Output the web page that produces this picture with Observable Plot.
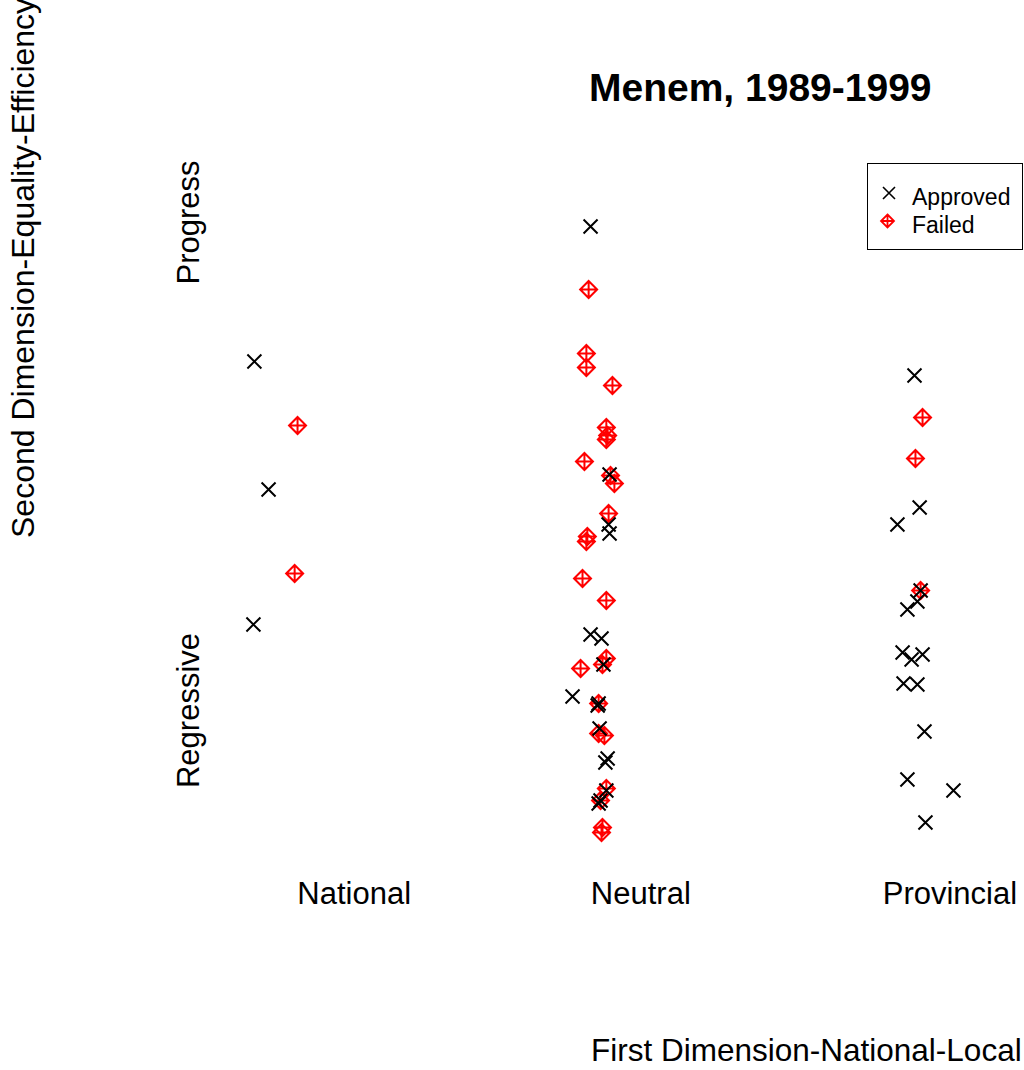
<!DOCTYPE html>
<html>
<head>
<meta charset="utf-8">
<script src="https://cdn.jsdelivr.net/npm/d3@7"></script>
<script src="https://cdn.jsdelivr.net/npm/@observablehq/plot@0.6"></script>
<style>
  html, body { margin: 0; padding: 0; background: #fff; overflow: hidden; }
  #wrap { position: relative; width: 1024px; height: 1070px; font-family: "Liberation Sans", Arial, sans-serif; color: #000; }
  #chart { position: absolute; left: 0; top: 0; }
  .lbl { position: absolute; white-space: nowrap; line-height: 1; }
  #title { left: 589px; top: 68px; font-size: 39px; font-weight: bold; }
  #xlabel { left: 591px; top: 1035px; font-size: 31.5px; }
  #ylabel { left: 7px; top: 538px; font-size: 32px; transform: rotate(-90deg); transform-origin: left top; }
  #legend { position: absolute; left: 867px; top: 163px; width: 154px; height: 85px; border: 1px solid #000; background: #fff; }
  #legend svg { position: absolute; left: 0; top: 0; }
  #legend .t { position: absolute; left: 44px; font-size: 23px; line-height: 1; white-space: nowrap; }
</style>
</head>
<body>
<div id="wrap">
  <div id="chart"></div>
  <div class="lbl" id="title">Menem, 1989-1999</div>
  <div class="lbl" id="xlabel">First Dimension-National-Local</div>
  <div class="lbl" id="ylabel">Second Dimension-Equality-Efficiency</div>
  <div id="legend">
    <svg width="154" height="85">
      <path d="M15,23 L27,35 M27,23 L15,35" stroke="#000" stroke-width="1.6" fill="none"/>
      <path d="M19.5,50.5 L26,57 L19.5,63.5 L13,57 Z M19.5,50.5 L19.5,63.5 M13,57 L26,57" stroke="#ff0000" stroke-width="1.8" fill="none"/>
    </svg>
    <div class="t" style="top:21.5px">Approved</div>
    <div class="t" style="top:49.5px">Failed</div>
  </div>
</div>
<script>
// Categories on the first dimension (x positions 0, 1, 2 plus jitter)
const groups = ["National", "Neutral", "Provincial"];
const xTickValues = [0.26, 1.15, 2.11];
const yTickLabels = ["Progress", "Regressive"];
const yTickValues = [3.03, -1.85];

// Approved bills: jittered first-dimension position and second-dimension score
const approvedX = [
  -0.050, -0.006, -0.053,
  0.994, 1.053, 1.050, 1.053, 0.994, 1.028, 1.034, 0.938, 1.019, 1.016, 1.022, 1.047, 1.040, 1.043, 1.025, 1.019,
  2.000, 2.016, 1.947, 2.019, 2.009, 1.978, 1.963, 1.991, 2.025, 1.966, 2.009, 2.031, 1.978, 2.121, 2.034
];
const approvedY = [
  1.64, 0.36, -0.99,
  2.99, 0.51, 0.01, -0.08, -1.09, -1.13, -1.39, -1.71, -1.78, -1.80, -2.03, -2.33, -2.37, -2.65, -2.75, -2.78,
  1.50, 0.18, 0.01, -0.65, -0.76, -0.84, -1.27, -1.34, -1.29, -1.58, -1.59, -2.06, -2.54, -2.65, -2.97
];

// Failed bills
const failedX = [
  0.084, 0.075,
  0.988, 0.981, 0.981, 1.062, 1.043, 1.047, 1.043, 0.975, 1.056, 1.068, 1.050, 0.984, 0.981, 0.969, 1.043,
  1.043, 1.031, 0.963, 1.019, 1.019, 1.037, 1.043, 1.025, 1.031, 1.028,
  2.025, 2.003, 2.019
];
const failedY = [
  1.00, -0.48,
  2.36, 1.72, 1.58, 1.40, 0.98, 0.90, 0.86, 0.64, 0.50, 0.42, 0.12, -0.11, -0.16, -0.53, -0.75,
  -1.33, -1.39, -1.43, -1.78, -2.08, -2.10, -2.63, -2.75, -3.02, -3.07,
  1.08, 0.67, -0.65
];

const approved = approvedX.map((x, i) => ({x, y: approvedY[i]}));
const failed = failedX.map((x, i) => ({x, y: failedY[i]}));

const crossSymbol = {
  draw(ctx, size) {
    const r = Math.sqrt(size / Math.PI);
    ctx.moveTo(-r, -r); ctx.lineTo(r, r);
    ctx.moveTo(r, -r); ctx.lineTo(-r, r);
  }
};
const diamondPlusSymbol = {
  draw(ctx, size) {
    const r = Math.sqrt(size / Math.PI);
    ctx.moveTo(0, -r); ctx.lineTo(r, 0); ctx.lineTo(0, r); ctx.lineTo(-r, 0); ctx.closePath();
    ctx.moveTo(0, -r); ctx.lineTo(0, r);
    ctx.moveTo(-r, 0); ctx.lineTo(r, 0);
  }
};

const font = "'Liberation Sans', Arial, sans-serif";

const chart = Plot.plot({
  width: 1024,
  height: 1070,
  marginTop: 0,
  marginRight: 0,
  marginLeft: 0,
  marginBottom: 189,
  style: {background: "transparent", fontFamily: font, overflow: "visible"},
  x: {domain: [0, 2], range: [270, 914], axis: null},
  y: {domain: [-3, 3], range: [825, 225], axis: null},
  marks: [
    Plot.dot(failed, {x: "x", y: "y", symbol: diamondPlusSymbol, r: 8.5, stroke: "#ff0000", strokeWidth: 2, fill: "none"}),
    Plot.dot(approved, {x: "x", y: "y", symbol: crossSymbol, r: 7, stroke: "#000", strokeWidth: 2, fill: "none"}),
    Plot.text(xTickValues, {x: d => d, text: (d, i) => groups[i], frameAnchor: "bottom", lineAnchor: "top", fontSize: 31, fontFamily: font, fill: "#000"}),
    Plot.text(yTickValues, {y: d => d, text: (d, i) => yTickLabels[i], frameAnchor: "left", dx: 189, rotate: -90, textAnchor: "middle", lineAnchor: "middle", fontSize: 31, fontFamily: font, fill: "#000"})
  ]
});
document.getElementById("chart").appendChild(chart);
</script>
</body>
</html>
